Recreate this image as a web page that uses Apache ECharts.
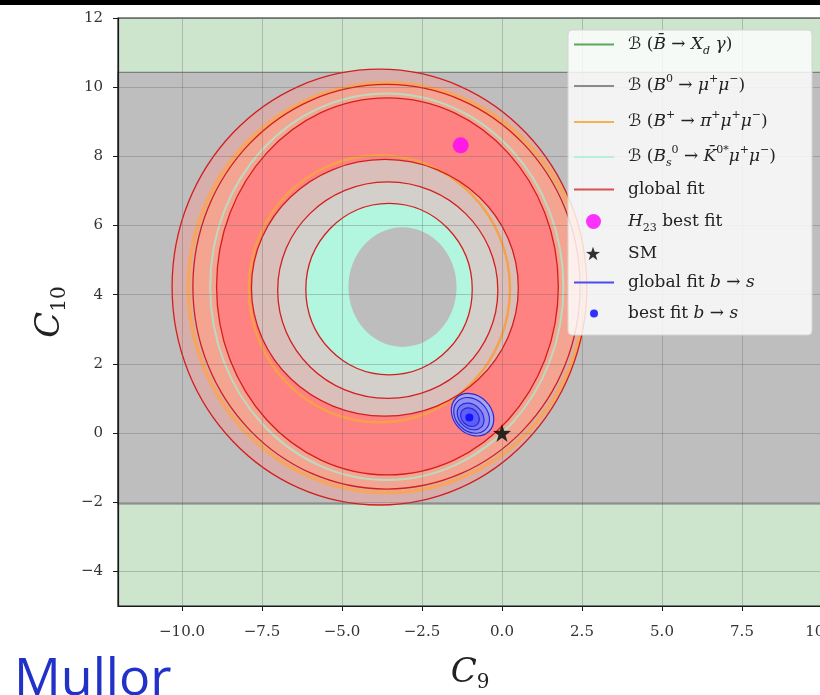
<!DOCTYPE html>
<html><head><meta charset="utf-8">
<script src="https://cdn.jsdelivr.net/npm/echarts@6/dist/echarts.min.js"></script>
<style>html,body{margin:0;padding:0;background:#fff}#c{width:820px;height:695px}</style>
</head><body><div id="c"></div>
<script>
// ---------------- data ----------------
const xTicks = [-10, -7.5, -5, -2.5, 0, 2.5, 5, 7.5, 10];
const yTicks = [-4, -2, 0, 2, 4, 6, 8, 10, 12];
// allowed regions [C9 min, C10 min, C9 max, C10 max]
const xdGammaRegion = [[-12, -5, 10, 12]];
const bMuMuBand = [[-12, -2.05, 10, 10.43]];
// closed contours [centre C9, centre C10, half-width (C9), half-height (C10)]
const bMuMuHole = [[-3.11, 4.22, 1.69, 1.73]];
const bsKMuMuRegion = [[-3.53, 4.16, 2.60, 2.48]];
const bsKMuMuLine = [[-3.60, 4.23, 5.52, 5.59]];
const bPiMuMuContours = [[-3.60, 4.20, 6.20, 5.92], [-3.83, 4.17, 4.08, 3.86]];
const globalFitContours = [
  [-3.83, 4.22, 6.48, 6.30],
  [-3.61, 4.23, 6.05, 5.85],
  [-3.58, 4.24, 5.34, 5.45],
  [-3.66, 4.20, 4.17, 3.71],
  [-3.57, 4.13, 3.44, 3.13],
  [-3.53, 4.16, 2.60, 2.48]
];
// b->s fit contours [centre C9, centre C10, semi-major, semi-minor (C9 units), tilt deg]
const bsFitContours = [
  [-0.92, 0.53, 0.73, 0.59, -45],
  [-0.95, 0.51, 0.62, 0.49, -45],
  [-0.98, 0.48, 0.47, 0.36, -45],
  [-1.00, 0.46, 0.32, 0.26, -45]
];
const h23BestFit = [[-1.29, 8.32]];
const smPoint = [[0, 0]];
const bsBestFit = [[-1.02, 0.45]];

// ---------------- styles ----------------
const globalFitFills = ['#d7aeac', '#f4a591', '#ff8282', '#d9beb9', '#d3cfcb', null];
const bsFitFills = ['#a6a3f0', '#9190f2', '#7877f5', '#5e5ef8'];
const STAR = 'path://M12,0L14.9,8.6L24,8.7L16.7,14.1L19.4,22.8L12,17.5L4.6,22.8L7.3,14.1L0,8.7L9.1,8.6Z';

function ellipseEl(api, fill, stroke, lw, z2) {
  const c = api.coord([api.value(0), api.value(1)]);
  const s = api.size([api.value(2), api.value(3)]);
  return {type: 'ellipse', shape: {cx: c[0], cy: c[1], rx: s[0], ry: s[1]},
    style: {fill: fill || 'none', stroke: stroke || 'none', lineWidth: lw || 0}, z2: z2};
}
function rectEl(api, fill, stroke, z2) {
  const a = api.coord([api.value(0), api.value(1)]);
  const b = api.coord([api.value(2), api.value(3)]);
  return {type: 'rect', shape: {x: Math.min(a[0], b[0]), y: Math.min(a[1], b[1]),
    width: Math.abs(b[0] - a[0]), height: Math.abs(b[1] - a[1])},
    style: {fill: fill, stroke: stroke || 'none', lineWidth: stroke ? 1.2 : 0}, z2: z2};
}

const series = [
  {name: 'xdg', type: 'custom', z: 2, itemStyle: {color: '#5aa75a'}, data: xdGammaRegion,
    renderItem: (p, api) => rectEl(api, '#cde4cd', null, 0)},
  {name: 'bmumu', type: 'custom', z: 2, itemStyle: {color: '#8a8a8a'}, data: bMuMuBand,
    renderItem: (p, api) => rectEl(api, '#bebebe', '#7d7d7d', 1)},
  {name: 'gfit', type: 'custom', z: 2, itemStyle: {color: '#d95050'}, data: globalFitContours,
    renderItem: (p, api) => {
      const f = globalFitFills[p.dataIndex];
      return f ? ellipseEl(api, f, null, 0, 10 + p.dataIndex * 10) : {type: 'group', children: []};
    }},
  {name: 'bpimumu', type: 'custom', z: 2, itemStyle: {color: '#f3b34f'}, data: bPiMuMuContours,
    renderItem: (p, api) => p.dataIndex === 0
      ? ellipseEl(api, null, 'rgba(250,165,90,0.9)', 4, 15)
      : ellipseEl(api, null, 'rgba(248,160,70,0.95)', 2.5, 45)},
  {name: 'bskmumu', type: 'custom', z: 2, itemStyle: {color: '#b6f0dc'}, data: bsKMuMuLine,
    renderItem: (p, api) => ellipseEl(api, null, 'rgba(180,225,200,0.9)', 2, 25)},
  {name: 'bskmumu', type: 'custom', z: 2, itemStyle: {color: '#b6f0dc'}, data: bsKMuMuRegion,
    renderItem: (p, api) => ellipseEl(api, '#b3f6e0', null, 0, 65)},
  {name: 'bmumu', type: 'custom', z: 2, itemStyle: {color: '#8a8a8a'}, data: bMuMuHole,
    renderItem: (p, api) => ellipseEl(api, '#bdbdbd', null, 0, 70)},
  {name: 'gfit', type: 'custom', z: 2, itemStyle: {color: '#d95050'}, data: globalFitContours,
    renderItem: (p, api) => ellipseEl(api, null, '#d41e1e', 1.3, 100 + p.dataIndex)},
  {name: 'gfitbs', type: 'custom', z: 2, itemStyle: {color: '#4c4cf0'}, data: bsFitContours,
    renderItem: (p, api) => {
      const c = api.coord([api.value(0), api.value(1)]);
      const a = api.size([api.value(2), 0])[0];
      const b = api.size([api.value(3), 0])[0];
      return {type: 'ellipse', x: c[0], y: c[1], rotation: api.value(4) * Math.PI / 180,
        shape: {cx: 0, cy: 0, rx: a, ry: b},
        style: {fill: bsFitFills[p.dataIndex], stroke: '#2a2ad6', lineWidth: 1.2}, z2: 200 + p.dataIndex};
    }},
  {name: 'h23', type: 'scatter', z: 4, data: h23BestFit, symbol: 'circle', symbolSize: 16,
    itemStyle: {color: '#ff00ff'}},
  {name: 'sm', type: 'scatter', z: 4, data: smPoint, symbol: STAR, symbolSize: 18,
    itemStyle: {color: '#000'}},
  {name: 'bfbs', type: 'scatter', z: 4, data: bsBestFit, symbol: 'circle', symbolSize: 8,
    itemStyle: {color: '#0000ff'}}
];

// ---------------- legend ----------------
const FS = '"DejaVu Serif", "DejaVu Sans", serif';
function rich(gapW) {
  return {
    gap: {width: gapW},
    r: {fontFamily: FS, fontSize: 17, color: '#222', lineHeight: 24},
    i: {fontFamily: FS, fontStyle: 'italic', fontSize: 17, color: '#222', lineHeight: 24},
    c: {fontFamily: '"DejaVu Sans", serif', fontSize: 17, color: '#222', lineHeight: 24},
    sup: {fontFamily: FS, fontSize: 11, color: '#222', verticalAlign: 'top', lineHeight: 24},
    sub: {fontFamily: FS, fontStyle: 'italic', fontSize: 11, color: '#222', verticalAlign: 'bottom', lineHeight: 24},
    subr: {fontFamily: FS, fontSize: 11, color: '#222', verticalAlign: 'bottom', lineHeight: 24}
  };
}
const legendLabels = {
  xdg: '{gap| }{c|ℬ}{r| (}{i|B̄}{r| → }{i|X}{sub|d}{i| γ}{r|)}',
  bmumu: '{gap| }{c|ℬ}{r| (}{i|B}{sup|0}{r| → }{i|μ}{sup|+}{i|μ}{sup|−}{r|)}',
  bpimumu: '{gap| }{c|ℬ}{r| (}{i|B}{sup|+}{r| → }{i|π}{sup|+}{i|μ}{sup|+}{i|μ}{sup|−}{r|)}',
  bskmumu: '{gap| }{c|ℬ}{r| (}{i|B}{sub|s}{sup|0}{r| → }{i|K̄}{sup|0*}{i|μ}{sup|+}{i|μ}{sup|−}{r|)}',
  gfit: '{gap| }{r|global fit}',
  h23: '{gap| }{i|H}{subr|23}{r| best fit}',
  sm: '{gap| }{r|SM}',
  gfitbs: '{gap| }{r|global fit }{i|b}{r| → }{i|s}',
  bfbs: '{gap| }{r|best fit }{i|b}{r| → }{i|s}'
};
// [name, row centre y, icon, icon width, icon height, colour, icon left]
const legendRows = [
  ['xdg', 48, 'rect', 40, 2, '#5aa75a', 574],
  ['bmumu', 86, 'rect', 40, 2, '#8a8a8a', 574],
  ['bpimumu', 122, 'rect', 40, 2, '#f3b34f', 574],
  ['bskmumu', 157, 'rect', 40, 2, '#b6f0dc', 574],
  ['gfit', 193, 'rect', 40, 2, '#d95050', 574],
  ['h23', 225, 'circle', 15, 15, '#ff00ff', 586],
  ['sm', 257, STAR, 14, 14, '#000000', 586],
  ['gfitbs', 286, 'rect', 40, 2, '#4c4cf0', 574],
  ['bfbs', 317, 'circle', 8, 8, '#0000ff', 590]
];
const legends = legendRows.map(r => ({
  show: true, z: 11, left: r[6], top: r[1] - 12, padding: 0, selectedMode: false,
  itemWidth: r[3], itemHeight: r[4],
  data: [{name: r[0], icon: r[2], itemStyle: {color: r[5], borderWidth: 0}}],
  formatter: n => legendLabels[n],
  textStyle: {rich: rich(628 - (r[6] + r[3] + 5))}
}));

const axisFont = {fontFamily: FS, fontSize: 15, color: '#333'};
const minus = v => (v < 0 ? '−' : '') + Math.abs(v);

const option = {
  animation: false,
  backgroundColor: '#ffffff',
  grid: {left: 118, top: 18, width: 704, height: 588, show: true, z: 3, outerBoundsMode: 'none',
    containLabel: false, backgroundColor: 'transparent', borderColor: '#1a1a1a', borderWidth: 1.2},
  xAxis: {
    type: 'value', min: -12, max: 10, interval: 2.5, z: 3,
    name: '{i|C}{s|9}', nameLocation: 'middle', nameGap: 47,
    nameTextStyle: {rich: {i: {fontFamily: FS, fontStyle: 'italic', fontSize: 34, color: '#222', lineHeight: 40},
      s: {fontFamily: FS, fontSize: 20, color: '#222', verticalAlign: 'bottom', lineHeight: 40}}},
    axisLine: {onZero: false, lineStyle: {color: '#1a1a1a', width: 1.2}},
    axisTick: {length: 5, customValues: xTicks, lineStyle: {color: '#1a1a1a'}},
    axisLabel: {customValues: xTicks, margin: 19, formatter: v => minus(v).replace(/^(−?\d+)$/, '$1.0'), ...axisFont},
    splitLine: {show: true, lineStyle: {color: 'rgba(105,105,105,0.35)', width: 1}}
  },
  yAxis: {
    type: 'value', min: -5, max: 12, interval: 2, z: 3,
    name: '{i|C}{s|10}', nameLocation: 'middle', nameRotate: 90, nameGap: 46,
    nameTextStyle: {rich: {i: {fontFamily: FS, fontStyle: 'italic', fontSize: 34, color: '#222', lineHeight: 40},
      s: {fontFamily: FS, fontSize: 20, color: '#222', verticalAlign: 'bottom', lineHeight: 40}}},
    axisLine: {onZero: false, lineStyle: {color: '#1a1a1a', width: 1.2}},
    axisTick: {length: 5, customValues: yTicks, lineStyle: {color: '#1a1a1a'}},
    axisLabel: {customValues: yTicks, margin: 15, formatter: v => minus(v), ...axisFont},
    splitLine: {show: true, lineStyle: {color: 'rgba(105,105,105,0.35)', width: 1}}
  },
  legend: legends,
  graphic: [
    {type: 'rect', z: 10, shape: {x: 0, y: 0, width: 820, height: 5}, style: {fill: '#000'}},
    {type: 'rect', z: 10, shape: {x: 568, y: 30, width: 244, height: 305, r: 4},
      style: {fill: 'rgba(255,255,255,0.82)', stroke: '#d4d4d4', lineWidth: 1}},
    {type: 'text', z: 10, x: 14, y: 706, style: {text: 'Mullor', font: '52px "Open Sans"', fill: '#2232c8', verticalAlign: 'bottom'}}
  ],
  series: series
};
const chart = echarts.init(document.getElementById('c'), null, {width: 820, height: 695});
chart.setOption(option);
</script>
</body></html>
